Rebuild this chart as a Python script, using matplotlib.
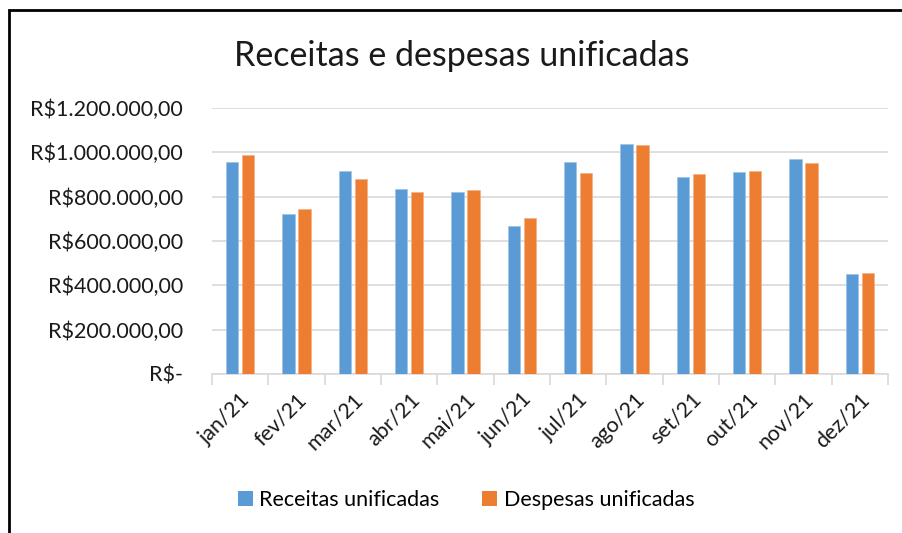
import matplotlib.pyplot as plt
import numpy as np
from matplotlib.patches import Rectangle
from matplotlib.ticker import FuncFormatter, FixedLocator

plt.rcParams['font.family'] = ['Lato', 'DejaVu Sans']

months = ['jan/21', 'fev/21', 'mar/21', 'abr/21', 'mai/21', 'jun/21',
          'jul/21', 'ago/21', 'set/21', 'out/21', 'nov/21', 'dez/21']
receitas = [957000, 720000, 917000, 834000, 820000, 668000,
            957000, 1037000, 889000, 912000, 969000, 449000]
despesas = [989000, 743000, 881000, 820000, 829000, 703000,
            909000, 1032000, 904000, 917000, 954000, 454000]

BLUE = '#5B9BD5'
ORANGE = '#ED7D31'
GRID = '#D9D9D9'
TEXT = '#1a1a1a'


def brl(v, pos=None):
    if v == 0:
        return 'R$-'
    s = f'{v:,.2f}'.replace(',', 'X').replace('.', ',').replace('X', '.')
    return 'R$' + s


fig = plt.figure(figsize=(9.03, 5.33), dpi=100)
W, H = 903, 533

# chart frame (runs off the right and bottom edges, as in the screenshot)
fig.patches.append(Rectangle((9 / W, -0.1), 1.2, (H - 10) / H + 0.1,
                             transform=fig.transFigure, fill=False,
                             edgecolor='black', linewidth=2))

ax = fig.add_axes([212 / W, (H - 374) / H, (888 - 212) / W, (374 - 108) / H])
x = np.arange(len(months))
ax.bar(x - 0.14, receitas, width=0.22, color=BLUE, label='Receitas unificadas',
       edgecolor='#9DC3E6', linewidth=0.5, zorder=3)
ax.bar(x + 0.14, despesas, width=0.22, color=ORANGE, label='Despesas unificadas',
       edgecolor='#F4B183', linewidth=0.5, zorder=3)

ax.set_xlim(-0.5, len(months) - 0.5)
ax.set_ylim(0, 1200000)
ax.set_yticks(np.arange(0, 1200001, 200000))
ax.yaxis.set_major_formatter(FuncFormatter(brl))
ax.grid(axis='y', color=GRID, linewidth=1.2, zorder=0)

for side in ['top', 'right', 'left']:
    ax.spines[side].set_visible(False)
ax.spines['bottom'].set_color(GRID)
ax.spines['bottom'].set_linewidth(1.2)

ax.set_xticks(x)
ax.set_xticklabels(months, rotation=45, ha='right', rotation_mode='anchor')
ax.xaxis.set_minor_locator(FixedLocator(np.arange(-0.5, len(months), 1)))
ax.tick_params(axis='x', which='major', length=0, pad=11, labelsize=15.5,
               colors=TEXT)
ax.tick_params(axis='x', which='minor', length=8, color=GRID, width=1.2)
ax.tick_params(axis='y', length=0, pad=21, labelsize=15.5, colors=TEXT)

fig.text(462 / W, (H - 56) / H, 'Receitas e despesas unificadas',
         ha='center', va='center', fontsize=24.5, color=TEXT)

legend = fig.legend(loc='center', bbox_to_anchor=(466 / W, (H - 500) / H),
                    ncol=2, frameon=False, fontsize=15.5, handlelength=0.7,
                    handleheight=0.7, handletextpad=0.3, columnspacing=2.0)
for handle in legend.legend_handles:
    handle.set_linewidth(0)

fig.savefig('out.png', dpi=100, facecolor='white')
